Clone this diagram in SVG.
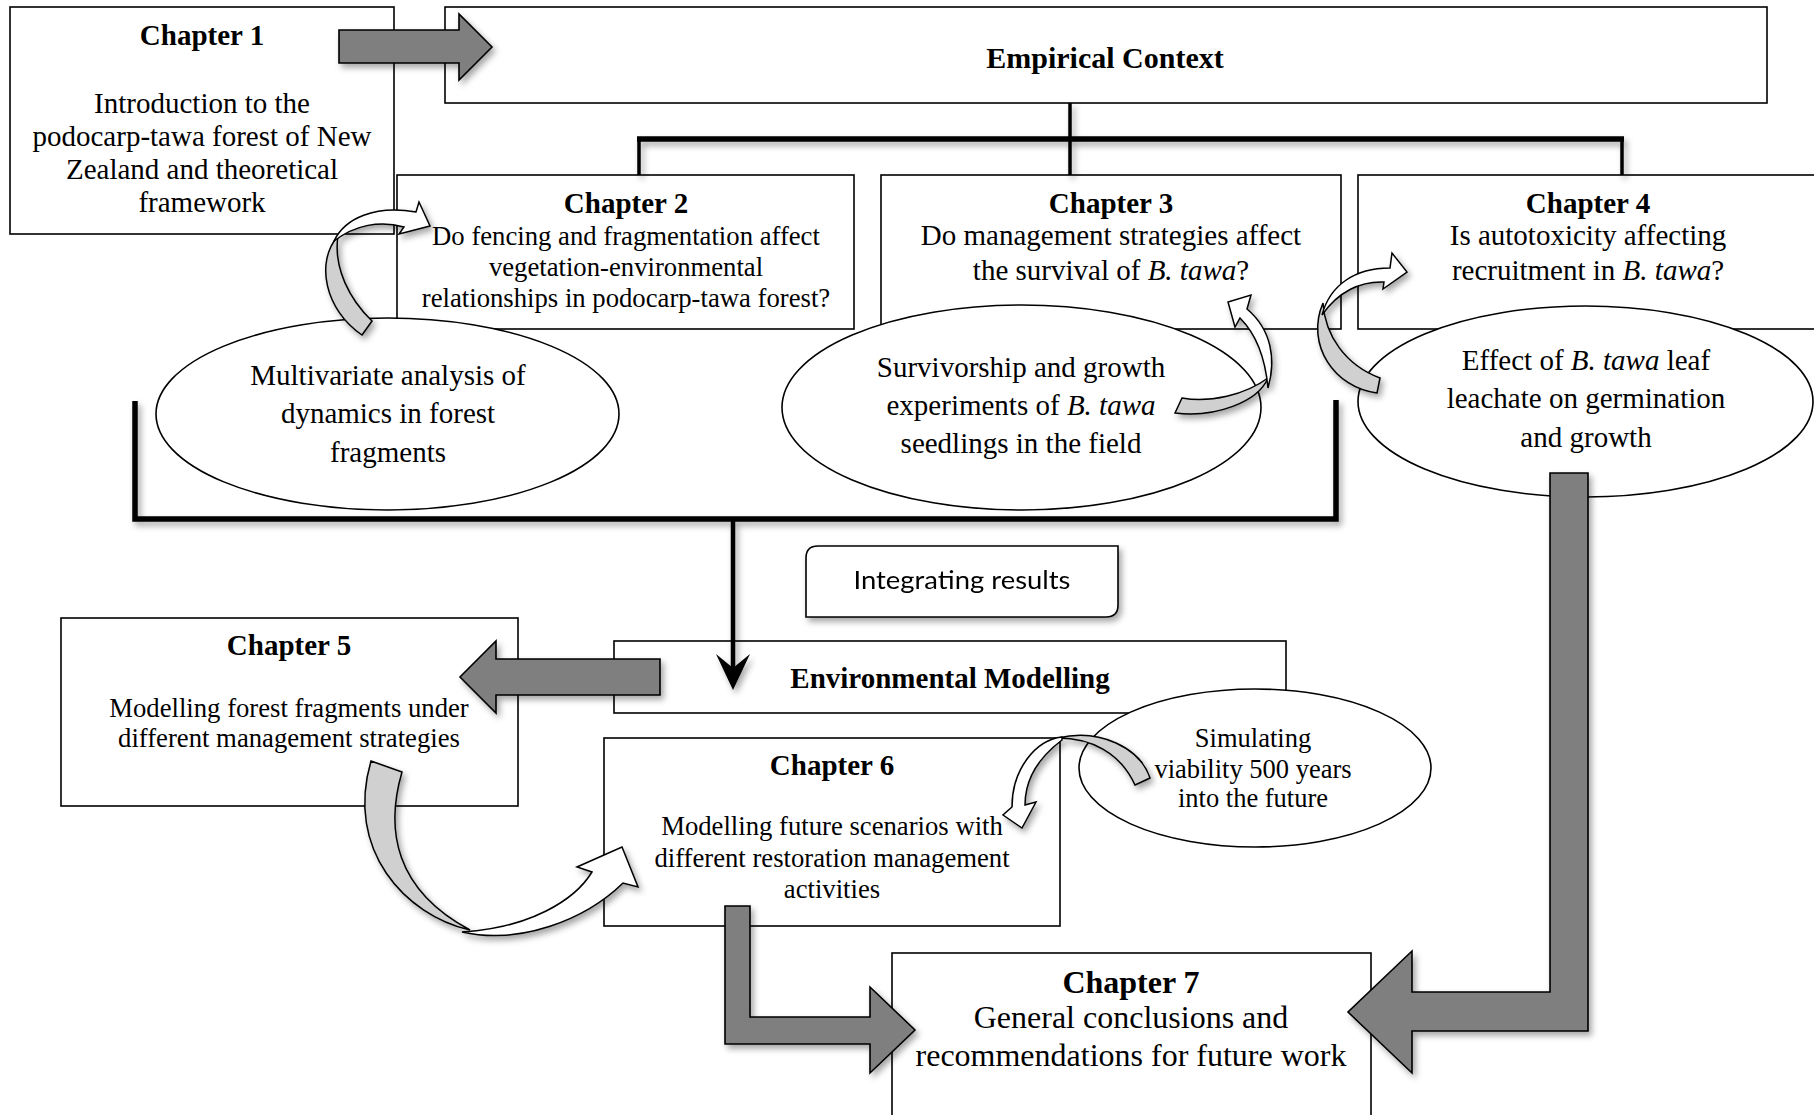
<svg xmlns="http://www.w3.org/2000/svg" width="1814" height="1115" viewBox="0 0 1814 1115">
<defs>
<filter id="sh" x="-20%" y="-20%" width="140%" height="140%">
<feDropShadow dx="3" dy="4" stdDeviation="3" flood-color="#000" flood-opacity="0.35"/>
</filter>
<style>
.box{fill:#fff;stroke:#000;stroke-width:1.6}
.t{font-family:'Liberation Serif','Times New Roman',serif;fill:#000;text-anchor:middle}
.b{font-weight:bold}
.s29{font-size:29px}
.s27{font-size:26.7px}
.s32{font-size:32px}
.blk{fill:#7f7f7f;stroke:#000;stroke-width:1.6;stroke-linejoin:miter}
.cw{fill:#fff;stroke:#000;stroke-width:1.5;stroke-linejoin:miter}
.cg{fill:#d0d0d0;stroke:#000;stroke-width:1.5;stroke-linejoin:miter}
.ln{fill:none;stroke:#000}
</style>
</defs>
<rect width="1814" height="1115" fill="#fff"/>

<g id="chapter1">
<rect class="box" x="10" y="7" width="384" height="227"/>
<text class="t b s29" x="202" y="45">Chapter 1</text>
<text class="t s29" x="202" y="113">Introduction to the</text>
<text class="t s29" x="202" y="146">podocarp-tawa forest of New</text>
<text class="t s29" x="202" y="179">Zealand and theoretical</text>
<text class="t s29" x="202" y="212">framework</text>
</g>

<g id="empirical-context">
<rect class="box" x="445" y="7" width="1322" height="96"/>
<text class="t b" style="font-size:30px" x="1105" y="68">Empirical Context</text>
</g>

<g id="chapter2">
<rect class="box" x="397" y="175" width="457" height="154"/>
<text class="t b s29" x="626" y="213">Chapter 2</text>
<text class="t s27" x="626" y="245">Do fencing and fragmentation affect</text>
<text class="t s27" x="626" y="276">vegetation-environmental</text>
<text class="t s27" x="626" y="307">relationships in podocarp-tawa forest?</text>
</g>

<g id="chapter3">
<rect class="box" x="881" y="175" width="460" height="154"/>
<text class="t b s29" x="1111" y="213">Chapter 3</text>
<text class="t s29" x="1111" y="245">Do management strategies affect</text>
<text class="t s29" x="1111" y="280">the survival of <tspan font-style="italic">B. tawa</tspan>?</text>
</g>

<g id="chapter4">
<rect class="box" x="1358" y="175" width="460" height="154"/>
<text class="t b s29" x="1588" y="213">Chapter 4</text>
<text class="t s29" x="1588" y="245">Is autotoxicity affecting</text>
<text class="t s29" x="1588" y="280">recruitment in <tspan font-style="italic">B. tawa</tspan>?</text>
</g>

<g id="ellipse-multivariate">
<ellipse class="box" cx="387.5" cy="414" rx="231.5" ry="96"/>
<text class="t s29" x="388" y="385">Multivariate analysis of</text>
<text class="t s29" x="388" y="423">dynamics in forest</text>
<text class="t s29" x="388" y="462">fragments</text>
</g>

<g id="ellipse-survivorship">
<ellipse class="box" cx="1021.5" cy="407.5" rx="239.5" ry="102.5"/>
<text class="t s29" x="1021" y="377">Survivorship and growth</text>
<text class="t s29" x="1021" y="415">experiments of <tspan font-style="italic">B. tawa</tspan></text>
<text class="t s29" x="1021" y="453">seedlings in the field</text>
</g>

<g id="ellipse-leachate">
<ellipse class="box" cx="1585.5" cy="401.5" rx="227.5" ry="95.5"/>
<text class="t s29" x="1586" y="370">Effect of <tspan font-style="italic">B. tawa</tspan> leaf</text>
<text class="t s29" x="1586" y="408">leachate on germination</text>
<text class="t s29" x="1586" y="447">and growth</text>
</g>

<g id="integrating-results" filter="url(#sh)">
<path class="box" d="M818 546 L1118 546 L1118 605 Q1118 617 1106 617 L806 617 L806 558 Q806 546 818 546 Z"/>
<text x="962" y="589" style="font-family:Lato,'Open Sans',sans-serif;font-size:25px;text-anchor:middle" textLength="217" lengthAdjust="spacingAndGlyphs">Integrating results</text>
</g>

<g id="environmental-modelling">
<rect class="box" x="614" y="641" width="672" height="72"/>
<text class="t b s29" x="950" y="688">Environmental Modelling</text>
</g>

<g id="chapter5">
<rect class="box" x="61" y="618" width="457" height="188"/>
<text class="t b s29" x="289" y="655">Chapter 5</text>
<text class="t s27" x="289" y="717">Modelling forest fragments under</text>
<text class="t s27" x="289" y="747">different management strategies</text>
</g>

<g id="chapter6">
<rect class="box" x="604" y="738" width="456" height="188"/>
<text class="t b s29" x="832" y="775">Chapter 6</text>
<text class="t s27" x="832" y="835">Modelling future scenarios with</text>
<text class="t s27" x="832" y="867">different restoration management</text>
<text class="t s27" x="832" y="898">activities</text>
</g>

<g id="ellipse-simulating">
<ellipse class="box" cx="1255" cy="768" rx="176" ry="79"/>
<text class="t" style="font-size:26.5px" x="1253" y="747">Simulating</text>
<text class="t" style="font-size:26.5px" x="1253" y="778">viability 500 years</text>
<text class="t" style="font-size:26.5px" x="1253" y="807">into the future</text>
</g>

<g id="chapter7">
<rect class="box" x="892" y="953" width="479" height="170"/>
<text class="t b s32" x="1131" y="993">Chapter 7</text>
<text class="t s32" x="1131" y="1028">General conclusions and</text>
<text class="t s32" x="1131" y="1066">recommendations for future work</text>
</g>

<g id="connectors">
<g filter="url(#sh)">
<line class="ln" x1="1070" y1="103" x2="1070" y2="175" stroke-width="3.5"/>
<line class="ln" x1="637" y1="139" x2="1624" y2="139" stroke-width="5.5"/>
<line class="ln" x1="639" y1="139" x2="639" y2="175" stroke-width="3.5"/>
<line class="ln" x1="1622" y1="139" x2="1622" y2="175" stroke-width="3.5"/>
</g>
<g filter="url(#sh)">
<polyline class="ln" points="135,401 135,519 1336,519 1336,400" stroke-width="5.5"/>
<line class="ln" x1="733" y1="519" x2="733" y2="672" stroke-width="4.5"/>
<path d="M733 690 L716 654 L733 668 L750 654 Z" fill="#000"/>
</g>
<g filter="url(#sh)">
<polygon class="blk" points="339,30 459,30 459,14 492,47 459,80 459,63 339,63"/>
<polygon class="blk" points="660,659 496,659 496,641 460,677 496,713 496,695 660,695"/>
<polygon class="blk" points="725,906 750,906 750,1017 870,1017 870,987 915,1030 870,1073 870,1044 725,1044"/>
<polygon class="blk" points="1550,473 1588,473 1588,1031 1412,1031 1412,1073 1348,1012 1412,951 1412,992 1550,992"/>
</g>
<g id="curved-ch1-ch2" filter="url(#sh)">
<path class="cg" d="M362 335 L372 321 C350 300 333 268 338 236 C315 262 325 310 362 335 Z"/>
<path class="cw" d="M334 241 C345 218 375 205 416 212 L419 202 L430 226 L399 234 L404 227 C380 220 355 225 334 241 Z"/>
</g>
<g id="curved-ch3" filter="url(#sh)">
<path class="cg" d="M1175 413 L1182 398 C1210 403 1245 395 1268 378 C1258 402 1215 418 1175 413 Z"/>
<path class="cw" d="M1268 388 C1276 360 1272 330 1247 309 L1251 295 L1228 302 L1235 327 L1240 318 C1255 333 1265 355 1268 388 Z"/>
</g>
<g id="curved-ch4" filter="url(#sh)">
<path class="cg" d="M1380 378 L1377 393 C1335 388 1305 345 1323 303 C1325 335 1345 365 1380 378 Z"/>
<path class="cw" d="M1322 315 C1330 285 1355 268 1390 268 L1392 253 L1407 272 L1383 289 L1384 282 C1360 281 1338 292 1322 315 Z"/>
</g>
<g id="curved-ch5-ch6" filter="url(#sh)">
<path class="cg" d="M371 761 L402 772 C385 830 395 890 470 930 C405 915 345 850 371 761 Z"/>
<path class="cw" d="M462 932 C520 945 585 920 623 883 L638 887 L622 847 L577 867 L592 872 C575 900 530 928 462 932 Z"/>
</g>
<g id="curved-sim-ch6" filter="url(#sh)">
<path class="cg" d="M1135 785 L1150 778 C1140 748 1100 728 1058 738 C1090 738 1120 752 1135 785 Z"/>
<path class="cw" d="M1062 737 C1035 740 1012 770 1012 807 L1003 815 L1022 828 L1036 802 L1025 805 C1025 780 1038 758 1062 740 Z"/>
</g>
</g>
</svg>
